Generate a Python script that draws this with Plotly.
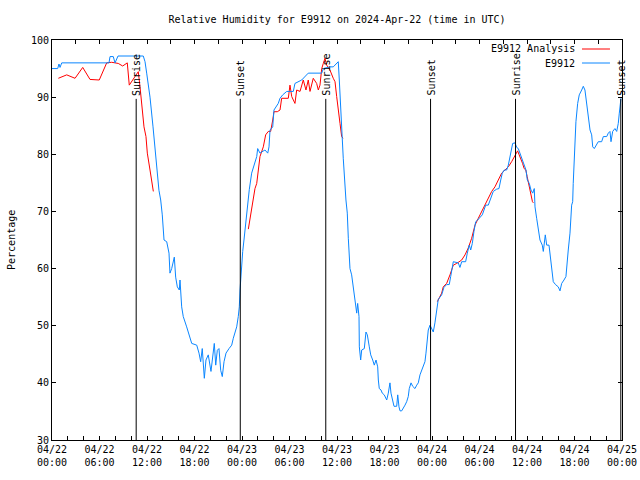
import plotly.graph_objects as go
import pandas as pd

BASE = pd.Timestamp("2024-04-22 00:00")

TITLE = "Relative Humidity for E9912 on 2024-Apr-22 (time in UTC)"
Y_TITLE = "Percentage"
NAME_ANALYSIS = "E9912 Analysis"
NAME_OBS = "E9912"

# E9912 observations: hours since 2024-04-22 00:00 UTC, relative humidity (%)
obs_hours = [0.00, 0.72, 0.88, 1.01, 1.23, 7.20, 7.33, 7.74, 7.96, 8.34, 11.53, 11.75, 11.96, 12.38, 12.76,
             13.22, 13.51, 13.73, 13.93, 14.15, 14.49, 14.78, 14.90, 15.12, 15.45, 15.62, 15.83, 16.08, 16.17,
             16.38, 16.58, 17.01, 17.43, 17.65, 18.28, 18.57, 18.78, 18.98, 19.24, 19.45, 19.74, 19.96, 20.08,
             20.50, 20.68, 20.88, 21.09, 21.31, 21.51, 21.73, 21.98, 22.36, 22.70, 22.90, 23.11, 23.33, 23.53,
             23.66, 23.75, 23.87, 23.96, 24.09, 24.25, 24.57, 24.72, 24.92, 25.22, 25.52, 25.86, 25.98, 26.27,
             26.49, 26.90, 27.25, 27.41, 27.54, 27.88, 28.04, 28.58, 28.80, 29.14, 29.65, 30.48, 30.69, 31.54,
             32.37, 34.07, 34.27, 35.11, 35.53, 35.96, 36.16, 36.29, 36.38, 36.47, 36.59, 36.79, 37.13, 37.30,
             37.43, 37.55, 37.64, 37.85, 38.06, 38.18, 38.36, 38.49, 38.61, 38.78, 38.82, 38.99, 39.12, 39.45,
             39.66, 39.83, 40.08, 40.26, 40.51, 40.71, 40.93, 41.14, 41.22, 41.34, 41.56, 41.72, 41.97, 42.28,
             42.48, 42.69, 42.82, 43.03, 43.20, 43.54, 43.67, 43.83, 43.96, 44.17, 44.37, 44.59, 44.80, 45.00,
             45.13, 45.35, 45.56, 45.85, 46.07, 46.27, 46.48, 46.70, 46.90, 47.11, 47.24, 47.40, 47.53, 47.75,
             47.96, 48.16, 48.37, 48.59, 48.79, 49.22, 49.51, 49.85, 50.18, 50.36, 50.69, 51.32, 51.53, 51.75,
             52.25, 52.46, 52.71, 52.89, 53.09, 53.30, 53.52, 53.77, 54.06, 54.35, 54.57, 54.78, 55.11, 55.32,
             55.54, 55.74, 56.17, 56.46, 56.68, 56.88, 57.13, 57.43, 57.64, 57.76, 57.98, 58.19, 58.48, 58.70,
             58.90, 59.11, 59.33, 59.62, 59.87, 60.04, 60.29, 60.50, 60.72, 60.92, 61.01, 61.22, 61.43, 61.64,
             61.93, 62.06, 62.31, 62.49, 62.78, 62.97, 63.16, 63.32, 63.60, 63.95, 64.17, 64.38, 64.67, 64.92,
             65.21, 65.43, 65.64, 65.77, 65.84, 66.02, 66.18, 66.40, 66.60, 66.91, 67.11, 67.32, 67.54, 67.74,
             67.96, 68.17, 68.30, 68.50, 68.71, 69.00, 69.43, 69.64, 70.07, 70.27, 70.48, 70.61, 70.82, 71.11,
             71.33, 71.53, 71.66, 71.75, 71.87]
obs_values = [95.0, 95.0, 95.8, 95.2, 96.0, 96.0, 97.1, 97.1, 96.0, 97.2, 97.2, 96.2, 94.2, 90.0, 84.8,
              78.4, 73.7, 72.0, 69.4, 65.0, 64.7, 62.7, 59.2, 60.0, 62.0, 58.5, 56.8, 56.25, 58.0,
              53.3, 51.6, 49.8, 48.1, 46.9, 46.6, 45.2, 43.7, 46.0, 40.8, 44.0, 44.9, 42.8, 42.0,
              46.9, 43.1, 45.7, 46.0, 42.2, 41.1, 43.7, 45.2, 46.0, 46.6, 47.8, 48.9, 49.8, 51.6,
              53.3, 56.25, 59.2, 61.0, 63.0, 65.0, 69.5, 70.8, 73.8, 76.7, 78.1, 79.6, 81.0, 80.2,
              80.4, 80.75, 80.2, 81.3, 84.25, 84.8, 87.75, 88.9, 89.8, 90.4, 91.0, 91.0, 92.4, 93.0,
              94.2, 94.2, 95.0, 95.3, 95.3, 95.9, 96.2, 93.0, 90.7, 87.2, 83.1, 79.3, 72.0, 69.7,
              65.3, 61.8, 60.0, 58.9, 56.8, 55.1, 53.0, 52.2, 53.9, 51.6, 46.3, 44.0, 45.75, 46.0,
              48.9, 48.4, 46.3, 44.9, 44.0, 43.1, 44.0, 42.8, 40.5, 39.0, 38.75, 38.2, 37.9, 37.0,
              38.2, 40.0, 38.2, 36.7, 35.9, 35.9, 37.9, 35.8, 35.1, 35.1, 35.5, 36.1, 36.7, 37.6,
              39.0, 40.0, 39.4, 39.0, 39.6, 40.0, 41.4, 42.25, 42.8, 43.7, 45.2, 47.5, 49.25, 50.1,
              49.5, 48.9, 50.5, 52.5, 54.6, 55.4, 56.7, 57.2, 57.2, 58.6, 61.2, 61.0, 60.2, 61.2,
              61.2, 62.7, 64.1, 63.25, 64.4, 66.5, 68.2, 68.5, 69.0, 69.4, 70.25, 71.1, 71.1, 72.0,
              72.9, 73.5, 73.9, 74.0, 75.5, 76.7, 77.25, 77.25, 78.1, 79.0, 80.4, 81.9, 82.0, 81.2,
              81.0, 80.2, 79.3, 78.4, 77.25, 75.5, 74.9, 73.75, 73.2, 74.0, 70.8, 68.8, 66.75, 65.0,
              64.1, 63.0, 65.9, 64.1, 64.1, 61.8, 60.0, 57.7, 57.2, 56.8, 56.1, 57.4, 58.0, 58.6,
              63.25, 66.2, 71.1, 71.7, 74.9, 81.0, 85.7, 88.9, 90.4, 91.25, 91.9, 91.25, 88.9, 86.0,
              84.25, 83.4, 81.3, 81.0, 81.6, 82.2, 82.2, 83.1, 83.1, 83.7, 84.0, 82.2, 84.0, 84.5,
              84.0, 85.4, 87.2, 89.2, 89.8]

# E9912 Analysis: three 12-hour runs
ana1_hours = [0.80, 1.86, 2.91, 3.88, 4.80, 5.97, 6.91, 7.54, 8.37, 8.93, 9.51, 9.64, 9.76, 10.48, 10.90,
              11.12, 11.33, 11.62, 11.87, 12.04, 12.38, 12.80]
ana1_values = [93.3, 93.9, 93.3, 95.2, 93.1, 93.0, 96.0, 96.1, 95.9, 95.45, 96.0, 94.2, 92.1, 93.6, 94.45,
               91.8, 88.9, 84.8, 83.1, 80.2, 77.25, 73.5]
ana2_hours = [24.80, 25.01, 25.22, 25.43, 25.64, 25.86, 26.06, 26.27, 26.69, 26.99, 27.32, 27.62, 27.88,
              28.04, 28.46, 28.80, 29.01, 29.85, 30.06, 30.28, 30.69, 30.91, 31.33, 31.74, 32.08, 32.37,
              32.59, 33.00, 33.43, 33.64, 33.85, 34.07, 34.27, 34.48, 34.70, 35.11, 35.53, 35.75, 35.96,
              36.16, 36.38, 36.59, 36.76]
ana2_values = [66.9, 68.8, 70.25, 72.0, 74.0, 74.9, 77.8, 79.6, 81.3, 83.4, 84.0, 84.0, 86.0,
               87.45, 87.45, 87.75, 89.8, 89.8, 92.1, 90.1, 88.9, 91.25, 91.0, 93.0, 91.25, 93.0,
               91.0, 93.3, 92.4, 91.25, 92.1, 95.0, 95.9, 96.8, 95.6, 94.75, 93.3, 92.7, 90.1,
               87.2, 85.4, 83.1, 82.8]
ana3_hours = [48.67, 49.01, 49.22, 49.42, 49.85, 50.27, 50.48, 50.69, 51.12, 51.75, 52.17, 52.58, 53.01,
              53.43, 53.85, 54.27, 54.69, 55.11, 55.54, 55.95, 56.37, 56.80, 57.22, 57.64, 58.06, 58.39,
              58.60, 58.81, 59.01, 59.22, 59.44, 59.64, 59.85, 60.02, 60.27, 60.48, 60.69, 60.81]
ana3_values = [54.2, 55.1, 55.7, 56.8, 57.4, 58.9, 59.75, 60.6, 60.9, 61.5, 62.4, 63.6, 65.3,
               67.6, 68.8, 70.0, 71.1, 72.3, 73.5, 74.3, 75.5, 76.7, 77.25, 77.8, 78.7, 79.6,
               80.3, 80.6, 79.9, 79.3, 78.4, 77.5, 77.25, 76.1, 74.3, 72.9, 71.7, 71.5]

sunrise_times = ["2024-04-22 10:38", "2024-04-23 10:35", "2024-04-24 10:33"]
sunset_times = ["2024-04-22 23:47", "2024-04-23 23:49", "2024-04-24 23:51"]
marker_top = 89.7

x_range = ["2024-04-22 00:00", "2024-04-25 00:00"]
x_tick_times = ["2024-04-22 00:00", "2024-04-22 06:00", "2024-04-22 12:00", "2024-04-22 18:00",
                "2024-04-23 00:00", "2024-04-23 06:00", "2024-04-23 12:00", "2024-04-23 18:00",
                "2024-04-24 00:00", "2024-04-24 06:00", "2024-04-24 12:00", "2024-04-24 18:00",
                "2024-04-25 00:00"]
x_tick_labels = ["04/22<br>00:00", "04/22<br>06:00", "04/22<br>12:00", "04/22<br>18:00",
                 "04/23<br>00:00", "04/23<br>06:00", "04/23<br>12:00", "04/23<br>18:00",
                 "04/24<br>00:00", "04/24<br>06:00", "04/24<br>12:00", "04/24<br>18:00",
                 "04/25<br>00:00"]
y_ticks = [30, 40, 50, 60, 70, 80, 90, 100]

RED = "#ff0000"
BLUE = "#0a86ff"
FONT = "DejaVu Sans Mono"

FIG_W, FIG_H = 640, 480


def to_times(hours):
    return list(BASE + pd.to_timedelta(hours, unit="h"))


ana_x = to_times(ana1_hours) + [None] + to_times(ana2_hours) + [None] + to_times(ana3_hours)
ana_y = ana1_values + [None] + ana2_values + [None] + ana3_values

fig = go.Figure()
fig.add_trace(go.Scatter(x=ana_x, y=ana_y, mode="lines", name=NAME_ANALYSIS,
                         line=dict(color=RED, width=1), connectgaps=False, showlegend=False))
fig.add_trace(go.Scatter(x=to_times(obs_hours), y=obs_values, mode="lines", name=NAME_OBS,
                         line=dict(color=BLUE, width=1), showlegend=False))
# helper trace so the top axis (3-hour ticks) is drawn
fig.add_trace(go.Scatter(x=x_range, y=[None, None], xaxis="x2", mode="lines",
                         showlegend=False, hoverinfo="skip"))

annotations = []
shapes = []
for label, times in (("Sunrise", sunrise_times), ("Sunset", sunset_times)):
    for t in times:
        shapes.append(dict(type="line", xref="x", yref="y", x0=t, x1=t, y0=30, y1=marker_top,
                           line=dict(color="black", width=1)))
        annotations.append(dict(x=t, y=marker_top, xref="x", yref="y", text=label, textangle=-90,
                                showarrow=False, xanchor="center", yanchor="bottom", yshift=1, xshift=1,
                                font=dict(family=FONT, size=10, color="black")))

# gnuplot-style key: text right-aligned, line sample to its right
for i, (name, color) in enumerate(((NAME_ANALYSIS, RED), (NAME_OBS, BLUE))):
    ky = 0.9775 - i * 0.035
    annotations.append(dict(x=0.9215, y=ky, xref="paper", yref="paper", text=name, showarrow=False,
                            xanchor="right", yanchor="middle",
                            font=dict(family=FONT, size=10, color="black")))
    shapes.append(dict(type="line", xref="paper", yref="paper", x0=0.9298, x1=0.9789, y0=ky, y1=ky,
                       line=dict(color=color, width=1)))

annotations.append(dict(x=-0.072, y=0.5, xref="paper", yref="paper", text=Y_TITLE, textangle=-90,
                        showarrow=False, xanchor="center", yanchor="middle",
                        font=dict(family=FONT, size=10, color="black")))

fig.update_layout(
    width=FIG_W, height=FIG_H,
    margin=dict(l=52, r=18, t=40, b=40, autoexpand=False),
    paper_bgcolor="white", plot_bgcolor="white",
    font=dict(family=FONT, size=10, color="black"),
    title=dict(text=TITLE, x=0.5, xref="paper", xanchor="center", y=1 - 19 / FIG_H, yanchor="middle",
               font=dict(family=FONT, size=10, color="black")),
    showlegend=False,
    xaxis=dict(type="date", range=x_range, tickmode="array", tickvals=x_tick_times, ticktext=x_tick_labels,
               ticks="inside", ticklen=4, tickcolor="black", showgrid=False, zeroline=False,
               showline=True, linecolor="black", linewidth=1, mirror=True, automargin=False,
               tickfont=dict(family=FONT, size=10, color="black"),
               minor=dict(ticks="inside", ticklen=4, tickcolor="black", dtick=2 * 3600 * 1000,
                          tick0="2024-04-22 00:00", showgrid=False)),
    xaxis2=dict(type="date", range=x_range, overlaying="x", side="top", showticklabels=False,
                ticks="inside", ticklen=4, tickcolor="black", dtick=3 * 3600 * 1000, automargin=False,
                tick0="2024-04-22 00:00", showgrid=False, zeroline=False, showline=False),
    yaxis=dict(range=[30, 100], tickmode="array", tickvals=y_ticks, ticks="inside", ticklen=4,
               tickcolor="black", showgrid=False, zeroline=False, showline=True, linecolor="black",
               linewidth=1, mirror="ticks", automargin=False,
               tickfont=dict(family=FONT, size=10, color="black")),
    shapes=shapes,
    annotations=annotations,
)

# remove the browser's default 8 px body margin so the 640x480 figure fills the window
fig.write_html("out.html", config={"displayModeBar": False},
               post_script="document.body.style.margin='0px';")
